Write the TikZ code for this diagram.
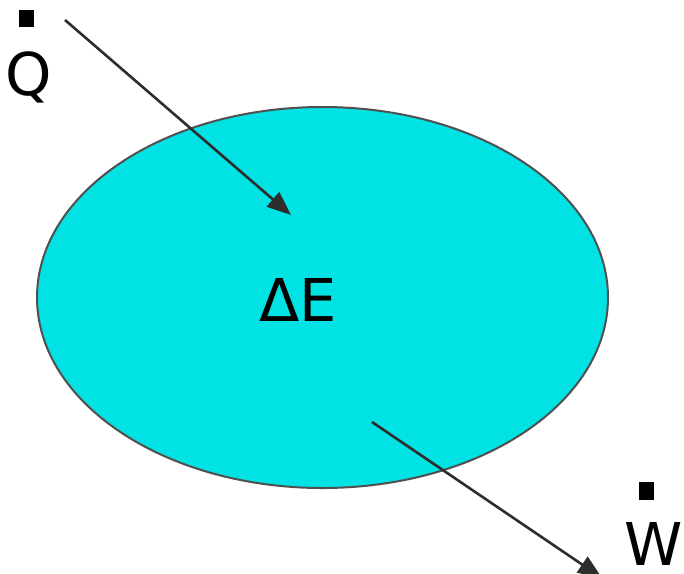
\documentclass[tikz,border=0pt]{standalone}
\usepackage{fontspec}
\setmainfont{DejaVu Sans}
\usetikzlibrary{arrows.meta,shapes.geometric}
\definecolor{fluid}{RGB}{0,226,228}
\definecolor{rim}{RGB}{80,80,80}
\definecolor{flow}{RGB}{45,45,45}

\begin{document}
\begin{tikzpicture}[x=1pt,y=-1pt,
  lbl/.style={inner sep=0pt,text depth=0pt,font=\fontsize{59}{59}\selectfont},
  rate/.style={fill=black},
  flowarr/.style={-{Triangle[length=24pt,width=19pt]},flow,line width=2.6pt}]
  \useasboundingbox (0,0) rectangle (684,573);
  \node[ellipse,draw=rim,line width=2pt,fill=fluid,inner sep=0pt,
    minimum width=571pt,minimum height=381pt](sys) at (322.5,297.5){};
  \node[lbl,anchor=base west](de) at (259,321){ΔE};
  % heat in
  \node[lbl,anchor=base west](q) at (5,95){Q};
  \fill[rate] (19,10) rectangle (34,27);
  \coordinate (qin) at (65,20);
  \coordinate (qend) at (291,215);
  \draw[flowarr] (qin) -- (qend);
  % work out
  \node[lbl,anchor=base west](w) at (624,565){W};
  \fill[rate] (639,482) rectangle (654,500);
  \coordinate (wout) at (372,422);
  \coordinate (wend) at (602,578);
  \draw[flowarr] (wout) -- (wend);
\end{tikzpicture}
\end{document}
